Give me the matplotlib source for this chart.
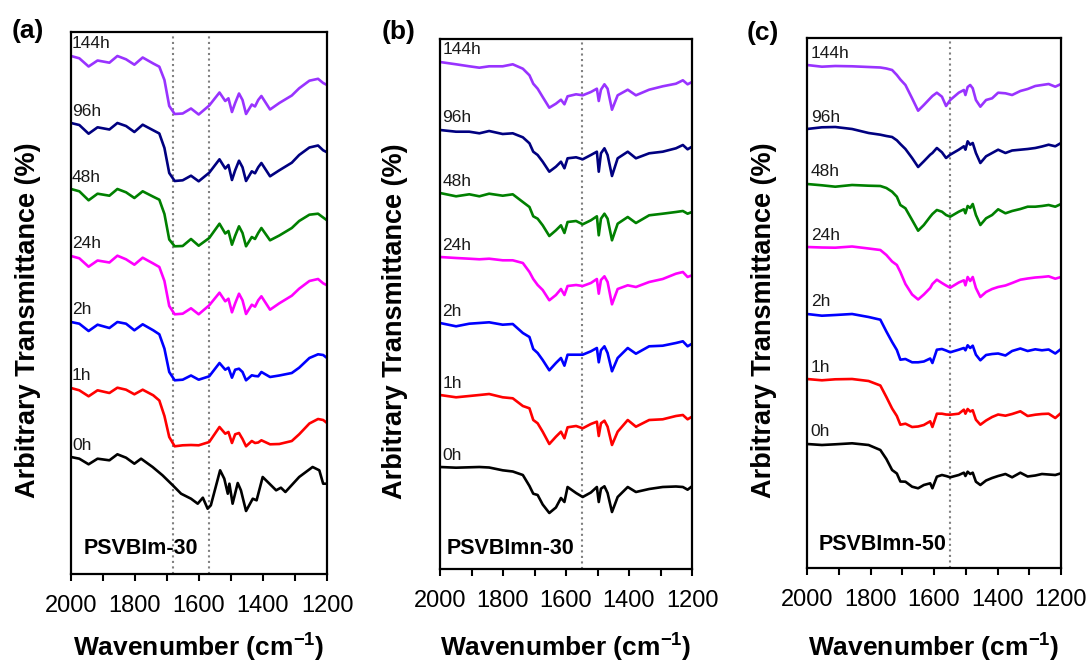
import matplotlib
matplotlib.use("Agg")
import matplotlib.pyplot as plt
from matplotlib.ticker import MultipleLocator

plt.rcParams['font.family'] = ['Liberation Sans', 'DejaVu Sans']
plt.rcParams['mathtext.fontset'] = 'custom'
plt.rcParams['mathtext.rm'] = 'Liberation Sans'
plt.rcParams['mathtext.bf'] = 'Liberation Sans:bold'

# ---------------------------------------------------------------- data
times = ['144h', '96h', '48h', '24h', '2h', '1h', '0h']
colors = ['#9933FF', '#000080', '#008000', '#FF00FF', '#0000FF', '#FF0000', '#000000']

# (a) PSVBIm-30 : spectra relative to the 2000 cm-1 level
wn_a = [2000, 1974, 1945, 1917, 1880, 1855, 1828, 1802, 1776, 1743, 1724, 1708, 1693,
        1676, 1651, 1625, 1601, 1568, 1536, 1518, 1508, 1497, 1487, 1475, 1464, 1453,
        1435, 1425, 1415, 1405, 1378, 1349, 1310, 1287, 1255, 1228, 1212, 1200]
a_144h = [0, -2.3, -10.5, -4.5, -6.7, 0, -3.3, -8.7, -1.5, -7.5, -10.7, -24, -50, -58,
          -57.5, -52.5, -58.5, -49.5, -36.5, -45, -42.3, -56, -47, -37.5, -44, -58,
          -48.5, -50.5, -44, -40, -53.5, -47, -39.5, -32.3, -24.7, -22.8, -27, -29]
a_96h = [0, -2.0, -10.7, -4.3, -6.5, 0, -3.0, -9.0, -1.7, -7.3, -10.5, -25, -50, -58,
         -57.3, -52.7, -58.3, -49.7, -36.3, -45.5, -42, -57, -47.3, -37.7, -44.3, -58,
         -48.3, -50.3, -44.3, -40, -53.3, -47.3, -39.7, -32, -24.5, -22.5, -27.3, -29.3]
a_48h = [0, -2.3, -11.3, -4.7, -6.7, 0, -3.3, -9, -2.3, -7.7, -10.7, -25, -50.5, -57.3,
         -57, -50, -56.7, -49, -34.7, -44.5, -42, -55.7, -46.7, -37.3, -44, -57.3,
         -48, -50, -44, -39, -51.3, -46.5, -39, -32, -25.7, -24.7, -28.5, -31.3]
a_24h = [0, -2.3, -10.7, -4.5, -6.5, 0.3, -3.3, -8.7, -1.7, -7.5, -11, -25, -50, -58.3,
         -57.7, -52.3, -58.3, -49.3, -36.7, -45.3, -42.7, -56.3, -47.3, -37.7, -44.3, -58,
         -48.7, -50.7, -44.3, -40.3, -53.7, -47.3, -39.7, -32.7, -25, -23, -27.3, -29.3]
a_2h = [0, -1.7, -9, -2.7, -6, 0, -1.7, -8.3, -2.3, -8.3, -12.3, -26.7, -50, -58.3,
        -57.7, -53.5, -57.7, -54.3, -41, -47.7, -45.7, -55.7, -47.7, -46.7, -50, -58.3,
        -53.3, -54, -54.3, -50, -55, -53.5, -51, -45.7, -36, -32.3, -33, -36]
a_1h = [0, -2.3, -8.3, -2.3, -5, 0.3, -1.7, -6.3, -1.7, -7.3, -12.5, -28, -49, -58.3,
        -57.3, -57, -57.3, -54, -39, -45.7, -44, -55, -46.3, -45, -51, -58.3,
        -53, -55, -54.5, -52.3, -56.3, -56, -53, -46.3, -35.5, -31, -32, -35]
wn_a0 = [2000, 1974, 1945, 1917, 1880, 1855, 1828, 1802, 1781, 1745, 1714, 1682, 1656,
         1625, 1604, 1588, 1573, 1563, 1534, 1521, 1510, 1505, 1495, 1479, 1469, 1453,
         1432, 1420, 1401, 1359, 1344, 1330, 1287, 1245, 1224, 1212, 1200]
a_0h = [0, -1.7, -7.3, -1.7, -3.3, 2.7, -0.7, -6.7, -1.7, -10, -18.3, -28.3, -36.7,
        -41.7, -46.7, -40.7, -51.7, -48.3, -13.3, -21.7, -36.7, -26.7, -46.7, -26, -33.3,
        -54, -41.7, -43.3, -20, -33.3, -30.7, -35, -20, -10, -13.3, -26.7, -26.7]
offsets_a = [518, 451, 385, 318, 252, 186, 117]

# (b) PSVBImn-30
wn_b = [2000, 1949, 1907, 1875, 1844, 1801, 1769, 1737, 1716, 1704, 1690, 1674, 1653,
        1632, 1616, 1605, 1595, 1568, 1547, 1521, 1502, 1496, 1489, 1478, 1468, 1454,
        1436, 1404, 1378, 1336, 1293, 1251, 1229, 1214, 1200]
b_144h = [0, -2.3, -4.3, -5.7, -4.3, -4.3, -2.3, -6.7, -13.3, -21.7, -26.7, -35, -45.7,
          -41.7, -37.7, -42.3, -34.3, -32.3, -33.3, -30, -26.7, -39, -27.7, -22.3, -26.7,
          -47.7, -33.3, -27.7, -33.3, -27.7, -24.3, -21.7, -18.3, -22.3, -20]
b_96h = [0, -1.7, -1.7, -3.3, -1, -4, -3.3, -7.3, -13.3, -21.7, -25, -31.7, -41.7,
         -36.7, -31.7, -38.3, -28.3, -27.3, -29.3, -25, -21.7, -41.7, -23.3, -18.3, -25,
         -46, -28.3, -21.7, -28.3, -23.3, -21.7, -18.3, -15, -19.3, -16.7]
b_48h = [0, -3.3, -1.3, -3.3, -0.7, -2.7, -1.3, -9, -14, -23.3, -25.7, -32.3, -43,
         -37.3, -32.3, -40, -29, -28, -31.3, -27.3, -23.3, -42.3, -25.7, -20.7, -25.7,
         -47.3, -30.7, -24, -30, -22.3, -20.7, -19, -18, -20.7, -19]
b_24h = [0, -1, -1.7, -2.3, -1.7, -3.3, -3.3, -6, -15, -22, -28, -33, -43.3,
         -38, -32, -38, -29, -28, -29, -26, -22, -36.7, -23, -19.3, -25,
         -47.3, -32, -28.3, -30, -25, -22, -16.7, -15, -20, -18.3]
b_2h = [0, -3.3, -0.7, 0, 0.7, -1.7, -1, -10, -14, -26, -30, -37, -47.3,
        -40, -35, -42.7, -31.7, -31.7, -31.7, -28.3, -25, -39.3, -27.3, -23.3, -30,
        -48.3, -35, -25, -30.7, -23.3, -22.7, -20, -18.3, -23.3, -20.7]
b_1h = [0, -2.3, -1, 0, 1, -2.3, -3.3, -11, -13.3, -25, -28.3, -36.7, -49,
        -41.7, -36.7, -43.3, -32.3, -31, -33.3, -29, -26.7, -41, -28.3, -25.7, -31.7,
        -50, -36.7, -25, -31.7, -25, -24.3, -21, -20, -24.3, -21.7]
b_0h = [0, -0.7, -0.3, 0, -0.5, -3.3, -4.5, -8, -19, -26.7, -28, -37.5, -46,
        -40.5, -31, -35, -20, -26, -30, -25.5, -20, -35, -21.7, -19.3, -26,
        -45, -30, -20, -25, -22, -20, -19.5, -20, -22.7, -19.3]
offsets_b = [507, 439, 376, 312, 246, 174, 102]

# (c) PSVBImn-50
wn_c = [2000, 1953, 1911, 1858, 1806, 1769, 1750, 1732, 1717, 1706, 1690, 1669, 1650,
        1632, 1612, 1605, 1591, 1575, 1562, 1549, 1522, 1506, 1501, 1494, 1486, 1478,
        1468, 1454, 1436, 1417, 1398, 1375, 1354, 1328, 1305, 1281, 1260, 1239, 1218, 1200]
c_144h = [0, -1.7, -1, -1.3, -2, -2.5, -3.5, -5, -10, -14.5, -20, -33.3, -45.7,
          -40, -33.3, -31, -27.7, -31.7, -41, -35, -27.7, -25, -30, -22, -20, -23.3,
          -35, -41.7, -35, -33.3, -27.7, -28.3, -30, -26, -24, -21, -20, -19, -21.7, -19]
c_96h = [0, 1.7, 2, 0, -4, -5.7, -7, -8, -11.3, -15, -20, -29, -38,
         -32.3, -25.7, -24, -19, -23.3, -29, -25.7, -20.7, -17.3, -20.7, -12.3, -15.7, -14,
         -24, -34, -27.3, -24, -20.7, -24, -21.5, -20.7, -20, -19, -17.5, -15.7, -17.3, -14]
c_48h = [0, -1.3, -2.7, -1, -1.7, -2, -4, -7.7, -12.7, -21, -24.3, -36, -46.7,
         -41, -32.7, -30, -26, -27.7, -31, -32.7, -27.7, -25.3, -29.3, -22, -24, -20,
         -31, -41, -34.3, -31, -25.3, -29.3, -27, -25, -22.7, -22.7, -22, -21, -22.7, -20]
c_24h = [0, -0.5, -0.7, 0.5, -1.5, -3, -8, -14.5, -18, -25, -37, -47.5, -52.5,
         -47.5, -41, -37, -32.7, -36, -38.5, -40.7, -35.5, -33.3, -38.3, -30, -34, -30,
         -41, -50, -45, -42, -40, -38.5, -36, -32.7, -31.5, -30.5, -30, -29.3, -31.7, -30]
c_2h = [0, -1.7, -1, 0, -3, -5.7, -17.5, -28, -36, -45.7, -45, -48.3, -48.3,
        -47.5, -44.5, -49, -35.7, -35, -36.5, -38.3, -35.7, -34, -36.3, -31.3, -34, -31.7,
        -40.7, -46.3, -41, -40, -39.5, -41.5, -37, -34.5, -37, -35.3, -36.3, -35.5, -39.5, -35]
c_1h = [0, -1.3, -0.3, 0, -2, -6.5, -18, -29.5, -37, -45.7, -44.7, -48, -47.5,
        -46, -42.3, -48, -34.7, -34.7, -35.5, -35.7, -34.7, -30.7, -34.7, -30, -32.5, -31.3,
        -40.7, -45.7, -41.5, -38, -35.5, -36.7, -35, -32.3, -37, -35.7, -35, -34.7, -39, -34]
c_0h = [0, -1, -0.3, 0.7, -1, -6, -15, -26, -29.5, -37.5, -37.7, -42.7, -44.3,
        -41, -39.3, -44.3, -32.7, -31, -32, -33.3, -31, -28.7, -32, -27.7, -30, -28.7,
        -37.7, -41, -36.5, -34, -32, -30, -33.3, -28.7, -32.5, -31.5, -30, -30.5, -31, -29.3]
offsets_c = [503, 439, 384, 321, 254, 189, 124]

panels = [
    dict(tag='(a)', name='PSVBIm-30',
         series=[(wn_a, a_144h), (wn_a, a_96h), (wn_a, a_48h), (wn_a, a_24h),
                 (wn_a, a_2h), (wn_a, a_1h), (wn_a0, a_0h)],
         offsets=offsets_a, marks=[1680, 1570]),
    dict(tag='(b)', name='PSVBImn-30',
         series=[(wn_b, b_144h), (wn_b, b_96h), (wn_b, b_48h), (wn_b, b_24h),
                 (wn_b, b_2h), (wn_b, b_1h), (wn_b, b_0h)],
         offsets=offsets_b, marks=[1550]),
    dict(tag='(c)', name='PSVBImn-50',
         series=[(wn_c, c_144h), (wn_c, c_96h), (wn_c, c_48h), (wn_c, c_24h),
                 (wn_c, c_2h), (wn_c, c_1h), (wn_c, c_0h)],
         offsets=offsets_c, marks=[1550]),
]

# ---------------------------------------------------------------- layout (pixels)
W, H = 1090, 664
boxes = [(71, 32, 327, 574), (440, 39, 692, 569), (807, 38, 1061, 568)]
tag_pos = [(12, 31), (382, 32), (747, 33)]
ylab_pos = [(28, 320), (395, 321), (764, 320)]
xlab_base = 656
time_x = [1997, 1993, 1988]
name_pos = [(1962, 26), (1978, 21), (1962, 23)]

fig = plt.figure(figsize=(W / 100, H / 100), dpi=100)

for p, (l, t, r, b), tp, yp, tx, npos in zip(panels, boxes, tag_pos, ylab_pos, time_x, name_pos):
    ax = fig.add_axes([l / W, 1 - b / H, (r - l) / W, (b - t) / H])
    for (wn, vals), off, col, lab in zip(p['series'], p['offsets'], colors, times):
        ax.plot(wn, [v + off for v in vals], color=col, lw=1.9, solid_joinstyle='round')
        ax.text(tx, off + 12, lab, fontsize=12.5, ha='left', va='center', color='#1a1a1a')
    for m in p['marks']:
        ax.axvline(m, color='#808080', ls=':', lw=1.5, zorder=0)
    ax.text(npos[0], npos[1], p['name'], fontsize=15.5, fontweight='bold',
            ha='left', va='center')
    ax.set_xlim(2000, 1200)
    ax.set_ylim(0, b - t)
    ax.set_yticks([])
    ax.xaxis.set_major_locator(MultipleLocator(200))
    ax.xaxis.set_minor_locator(MultipleLocator(100))
    ax.tick_params(axis='x', which='both', direction='out', length=5, width=1.5,
                   labelsize=17, pad=10)
    for s in ax.spines.values():
        s.set_linewidth(1.6)

    fig.text(tp[0] / W, 1 - tp[1] / H, p['tag'], fontsize=19, fontweight='bold',
             ha='left', va='center')
    fig.text(yp[0] / W, 1 - yp[1] / H, 'Arbitrary Transmittance (%)', fontsize=19.5,
             fontweight='bold', rotation=90, ha='center', va='center')
    fig.text((l + r) / 2 / W, 1 - xlab_base / H, r'Wavenumber (cm$^{\mathbf{-1}}$)',
             fontsize=19, fontweight='bold', ha='center', va='baseline')

fig.savefig('out.png', dpi=100)
